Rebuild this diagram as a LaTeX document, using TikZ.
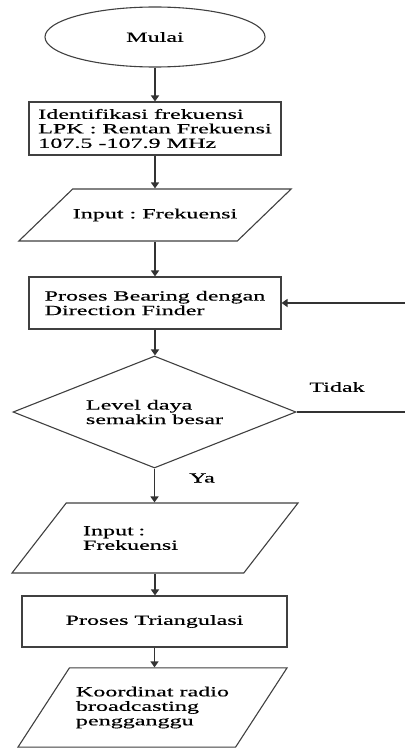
\documentclass[tikz,border=0pt]{standalone}
\usepackage{fontspec}
\setmainfont{Liberation Serif}[FakeStretch=1.72, FakeBold=0.4]
\usetikzlibrary{shapes.geometric,arrows.meta}
\frenchspacing
\begin{document}
\begin{tikzpicture}[x=1pt, y=-1pt,
	every node/.style={font=\fontsize{14}{14.5}\selectfont, inner sep=0pt},
	shp/.style={draw=black!75, line width=1.1pt, fill=white},
	proc/.style={shp, rectangle, align=left},
	io/.style={shp, trapezium, trapezium stretches body, align=left},
	arr/.style={draw=black!80, line width=1.5pt, -{Triangle[width=8pt,length=6pt]}}]
\useasboundingbox (0,0) rectangle (404,749);
\node[shp, ellipse, minimum width=220, minimum height=60] (start) at (155,37) {Mulai};
\node[proc, minimum width=252, minimum height=53] (ident) at (155,128.5)
	{Identifikasi frekuensi\\LPK : Rentan Frekuensi\\107.5 -107.9 MHz};
\node[io, trapezium left angle=44, trapezium right angle=136, inner ysep=19.7,
	minimum width=254, minimum height=52] (in1) at (155,215) {Input : Frekuensi};
\node[proc, minimum width=252, minimum height=52] (bear) at (155,303)
	{Proses Bearing dengan\\Direction Finder};
\node[shp, diamond, aspect=2.5, align=left, minimum width=283, minimum height=112]
	(dec) at (154.5,412) {Level daya\\semakin besar};
\node[io, trapezium left angle=52, trapezium right angle=128, text width=144,
	inner ysep=22.8, minimum width=286, minimum height=70] (in2) at (155,538)
	{Input :\\Frekuensi};
\node[proc, minimum width=265, minimum height=51] (tri) at (154.5,621.5)
	{Proses Triangulasi};
\node[io, trapezium left angle=57, trapezium right angle=123, inner ysep=18.7,
	minimum width=269, minimum height=79] (out) at (152.5,707.5)
	{Koordinat radio\\broadcasting\\pengganggu};
\node (tidak) at (337,387) {Tidak};
\node (ya) at (202,478) {Ya};
\coordinate (loop) at (410,412);
\foreach \a/\b in {start/ident, ident/in1, in1/bear, bear/dec, dec/in2, in2/tri, tri/out}
	\draw[arr] (\a.south) -- (\a.south |- \b.north);
\draw[arr] (dec.east) -- (loop) |- (bear.east);
\end{tikzpicture}
\end{document}
